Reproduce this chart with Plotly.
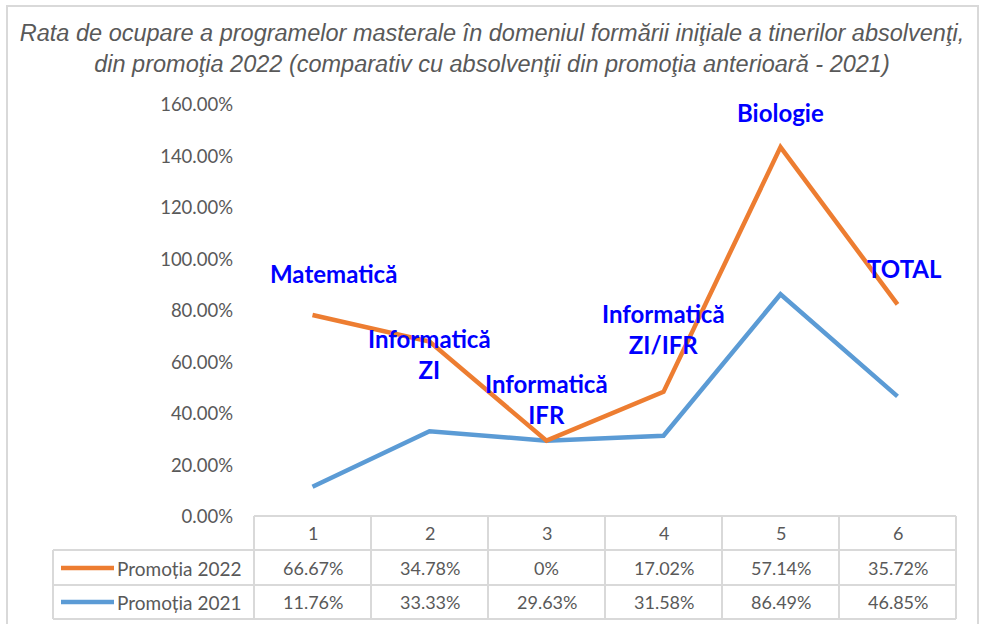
import plotly.graph_objects as go

# categories (x positions) and their program names
categories = [1, 2, 3, 4, 5, 6]
programe = ["Matematică", "Informatică<br>ZI", "Informatică<br>IFR",
            "Informatică<br>ZI/IFR", "Biologie", "TOTAL"]

# rates, in percent
promotia_2022 = [66.67, 34.78, 0, 17.02, 57.14, 35.72]
promotia_2021 = [11.76, 33.33, 29.63, 31.58, 86.49, 46.85]

series = [("Promoția 2022", promotia_2022, "#ED7D31"),
          ("Promoția 2021", promotia_2021, "#5B9BD5")]

GRAY = "#595959"
LINE = "#D9D9D9"
CAL = "Lato, Carlito, Calibri, sans-serif"

# pixel helpers for the plot area (x 254..956, y 105..517)
def px(x):
    return (x - 254) / 702

def py(y):
    return (517 - y) / 412

def pct(v):
    return "0%" if v == 0 else f"{v:.2f}%"

fig = go.Figure()

# stacked lines, as in the original Excel chart (2021 at the bottom)
for name, vals, col in reversed(series):
    fig.add_trace(go.Scatter(
        x=categories, y=[v / 100 for v in vals], name=name,
        mode="lines", stackgroup="one", fill="none",
        line=dict(color=col, width=4.5), showlegend=False,
        hovertemplate="%{y:.2%}<extra>" + name + "</extra>"))

# blue program labels
label_pos = [(1.18, 0.944), (2, 0.633), (3, 0.458), (4, 0.73), (5, 1.569), (6.06, 0.967)]
for (lx, ly), txt in zip(label_pos, programe):
    fig.add_annotation(x=lx, y=ly, xref="x", yref="y", text=f"<b>{txt}</b>",
                       showarrow=False, font=dict(family=CAL, size=24, color="#0000FF"),
                       xanchor="center", yanchor="middle")

shapes = []
# outer frame
shapes.append(dict(type="rect", xref="paper", yref="paper",
                   x0=px(7), x1=px(978), y0=py(640), y1=py(6),
                   line=dict(color=LINE, width=2), layer="below"))

# data table grid
rows = [516, 550, 585, 619]
for i, r in enumerate(rows):
    shapes.append(dict(type="line", xref="paper", yref="paper",
                       x0=px(254 if i == 0 else 53), x1=1, y0=py(r), y1=py(r),
                       line=dict(color=LINE, width=2)))
for k in range(7):
    shapes.append(dict(type="line", xref="paper", yref="paper",
                       x0=k / 6, x1=k / 6, y0=py(516), y1=py(619),
                       line=dict(color=LINE, width=2)))
shapes.append(dict(type="line", xref="paper", yref="paper",
                   x0=px(53), x1=px(53), y0=py(550), y1=py(619),
                   line=dict(color=LINE, width=2)))

# header numbers
for k, c in enumerate(categories):
    fig.add_annotation(x=(k + 0.5) / 6, y=py(533), xref="paper", yref="paper",
                       text=str(c), showarrow=False, xanchor="center", yanchor="middle",
                       font=dict(family=CAL, size=18, color=GRAY))

# series rows with legend swatches
for (name, vals, col), ry in zip(series, [568, 602]):
    shapes.append(dict(type="line", xref="paper", yref="paper",
                       x0=px(61), x1=px(114), y0=py(ry), y1=py(ry),
                       line=dict(color=col, width=4.5)))
    fig.add_annotation(x=px(115), y=py(ry), xref="paper", yref="paper",
                       text=name, showarrow=False, xanchor="left", yanchor="middle",
                       font=dict(family=CAL, size=19, color=GRAY))
    for k, v in enumerate(vals):
        fig.add_annotation(x=(k + 0.5) / 6, y=py(ry), xref="paper", yref="paper",
                           text=pct(v), showarrow=False, xanchor="center", yanchor="middle",
                           font=dict(family=CAL, size=18, color=GRAY))

fig.update_layout(
    width=984, height=624,
    margin=dict(l=254, r=28, t=105, b=107),
    paper_bgcolor="white", plot_bgcolor="white",
    shapes=shapes,
    title=dict(
        text="Rata de ocupare a programelor masterale în domeniul formării iniţiale a tinerilor absolvenţi,"
             "<br>din promoţia 2022 (comparativ cu absolvenţii din promoţia anterioară - 2021)",
        x=0.5, xanchor="center", y=1 - 41 / 624, yanchor="top",
        font=dict(family="Liberation Sans Narrow, Arial Narrow, Liberation Sans, sans-serif",
                  size=23.5, color=GRAY, style="italic")),
    xaxis=dict(range=[0.5, 6.5], showticklabels=False, showgrid=False,
               zeroline=False, showline=False, fixedrange=True),
    yaxis=dict(range=[0, 1.6], dtick=0.2, tickformat=".2%", showgrid=False,
               zeroline=False, showline=False, ticks="", ticklabelstandoff=20,
               tickfont=dict(family=CAL, size=18.5, color=GRAY), fixedrange=True),
)

fig.write_html("out.html", config={"displayModeBar": False},
               post_script="document.body.style.margin='0';")
